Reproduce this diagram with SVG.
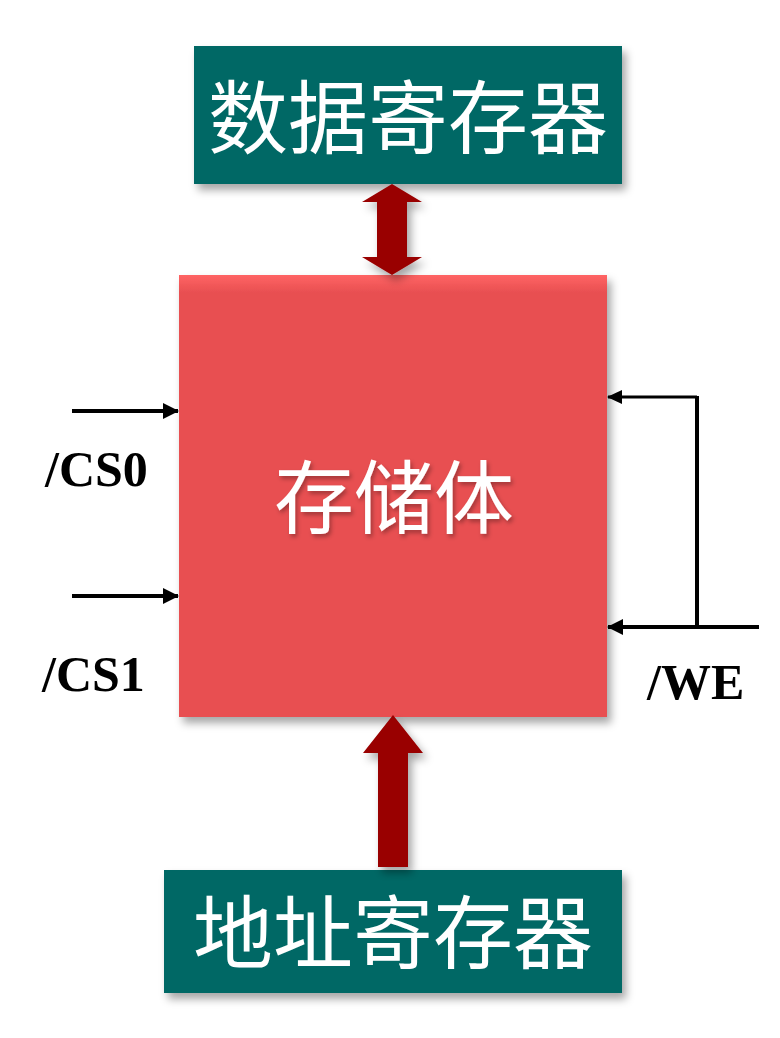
<svg xmlns="http://www.w3.org/2000/svg" width="780" height="1038" viewBox="0 0 780 1038">
<defs>
<style>
.teal{fill:#006865;}
.cjk{font-family:"Noto Sans CJK SC","Noto Sans CJK JP",sans-serif;fill:#ffffff;font-size:80px;text-anchor:middle;}
.lbl{font-family:"Liberation Serif","Times New Roman",serif;font-weight:bold;font-size:50px;fill:#000000;}
.wire{stroke:#000000;fill:none;}
.fat{fill:#990000;}
</style>
<filter id="sh" x="-10%" y="-10%" width="130%" height="130%">
<feDropShadow dx="4" dy="6" stdDeviation="4" flood-color="#000000" flood-opacity="0.35"/>
</filter>
<filter id="tsh" x="-10%" y="-10%" width="130%" height="130%">
<feDropShadow dx="2" dy="3" stdDeviation="2" flood-color="#000000" flood-opacity="0.3"/>
</filter>
<linearGradient id="redg" x1="0" y1="0" x2="0" y2="1">
<stop offset="0" stop-color="#FF6464"/>
<stop offset="0.04" stop-color="#E84F51"/>
<stop offset="1" stop-color="#E84F51"/>
</linearGradient>
<marker id="ah" viewBox="0 0 16 16" refX="15" refY="8" markerWidth="16" markerHeight="16" markerUnits="userSpaceOnUse" orient="auto">
<path d="M0,0 L16,8 L0,16 Z" fill="#000000"/>
</marker>
<marker id="ahs" viewBox="0 0 15 14" refX="14" refY="7" markerWidth="15" markerHeight="14" markerUnits="userSpaceOnUse" orient="auto">
<path d="M0,0 L15,7 L0,14 Z" fill="#000000"/>
</marker>
</defs>
<rect width="780" height="1038" fill="#ffffff"/>

<g id="data-register">
<rect class="teal" x="194" y="46" width="428" height="138" filter="url(#sh)"/>
<text class="cjk" x="408" y="147">数据寄存器</text>
</g>

<g id="memory">
<rect x="179" y="275" width="428" height="442" fill="url(#redg)" filter="url(#sh)"/>
<text class="cjk" x="394" y="527" filter="url(#tsh)">存储体</text>
</g>

<g id="address-register">
<rect class="teal" x="164" y="870" width="458" height="123" filter="url(#sh)"/>
<text class="cjk" x="393" y="962">地址寄存器</text>
</g>

<g id="connectors">
<polygon class="fat" filter="url(#sh)" points="392,184 422,202 407,202 407,257 422,257 392,275 362,257 377,257 377,202 362,202"/>
<polygon class="fat" filter="url(#sh)" points="393,715 423,753 408,753 408,867 378,867 378,753 363,753"/>
<line class="wire" x1="72" y1="411" x2="178" y2="411" stroke-width="4" marker-end="url(#ah)"/>
<line class="wire" x1="72" y1="596" x2="178" y2="596" stroke-width="4" marker-end="url(#ah)"/>
<line class="wire" x1="697" y1="397" x2="608" y2="397" stroke-width="3" marker-end="url(#ahs)"/>
<line class="wire" x1="697" y1="396" x2="697" y2="627" stroke-width="4"/>
<line class="wire" x1="759" y1="627" x2="608" y2="627" stroke-width="4" marker-end="url(#ah)"/>
</g>

<g id="labels">
<text class="lbl" x="45" y="486">/CS0</text>
<text class="lbl" x="42" y="691">/CS1</text>
<text class="lbl" x="647" y="699">/WE</text>
</g>
</svg>
